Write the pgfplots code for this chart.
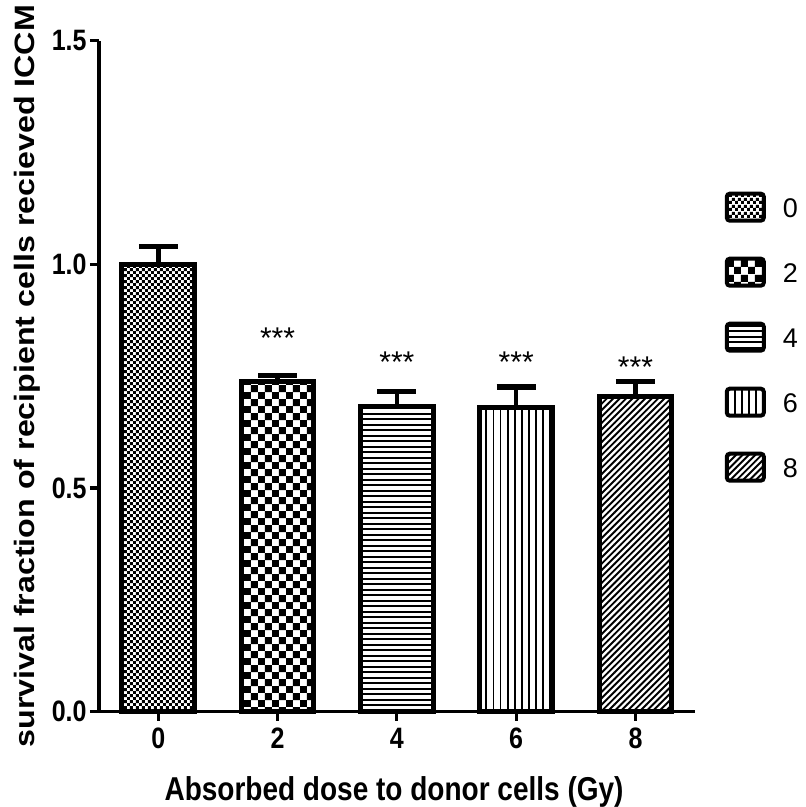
\documentclass[border=0pt]{standalone}
\usepackage{fontspec}
\setmainfont{Liberation Sans}
\usepackage{graphicx}
\usepackage{pgfplots}
\pgfplotsset{compat=1.18}
\usetikzlibrary{patterns}

% slight vertical stretch used for the bold labels
\newcommand{\vs}[1]{\scalebox{1}[1.18]{#1}}

% fill patterns for the five dose groups
\pgfdeclarepatternformonly{finechecker}{\pgfpointorigin}{\pgfqpoint{3.2pt}{3.2pt}}{\pgfqpoint{3.2pt}{3.2pt}}{
  \pgfpathrectangle{\pgfpointorigin}{\pgfqpoint{1.6pt}{1.6pt}}
  \pgfpathrectangle{\pgfqpoint{1.6pt}{1.6pt}}{\pgfqpoint{1.6pt}{1.6pt}}
  \pgfusepath{fill}}
\pgfdeclarepatternformonly{coarsechecker}{\pgfpointorigin}{\pgfqpoint{7.2pt}{7.2pt}}{\pgfqpoint{7.2pt}{7.2pt}}{
  \pgfpathrectangle{\pgfpointorigin}{\pgfqpoint{3.6pt}{3.6pt}}
  \pgfpathrectangle{\pgfqpoint{3.6pt}{3.6pt}}{\pgfqpoint{3.6pt}{3.6pt}}
  \pgfusepath{fill}}
\pgfdeclarepatternformonly{hlin}{\pgfqpoint{-0.5pt}{-0.5pt}}{\pgfqpoint{3.25pt}{3.25pt}}{\pgfqpoint{2.75pt}{2.75pt}}{
  \pgfsetlinewidth{0.9pt}
  \pgfpathmoveto{\pgfqpoint{-0.1pt}{1.375pt}}
  \pgfpathlineto{\pgfqpoint{2.85pt}{1.375pt}}
  \pgfusepath{stroke}}
\pgfdeclarepatternformonly{vlin}{\pgfqpoint{-0.5pt}{-0.5pt}}{\pgfqpoint{4.05pt}{4.05pt}}{\pgfqpoint{3.55pt}{3.55pt}}{
  \pgfsetlinewidth{0.9pt}
  \pgfpathmoveto{\pgfqpoint{1.775pt}{-0.1pt}}
  \pgfpathlineto{\pgfqpoint{1.775pt}{3.65pt}}
  \pgfusepath{stroke}}
\pgfdeclarepatternformonly{dlin}{\pgfqpoint{-1pt}{-1pt}}{\pgfqpoint{4.2pt}{4.2pt}}{\pgfqpoint{3.2pt}{3.2pt}}{
  \pgfsetlinewidth{0.95pt}
  \pgfpathmoveto{\pgfqpoint{0pt}{0pt}}
  \pgfpathlineto{\pgfqpoint{3.3pt}{3.3pt}}
  \pgfusepath{stroke}}

\pgfplotsset{
  dosebar/.style={ybar, bar width=0.61, bar shift=0pt, draw=black, line width=2.5pt,
    legend image code/.code={
      \draw[##1, line width=2pt, rounded corners=1.5pt] (1pt,-5.6pt) rectangle (19.5pt,7.9pt);}},
}

\begin{document}
\begin{tikzpicture}
\begin{axis}[
  name=ax,
  scale only axis, width=298pt, height=335.5pt,
  xmin=-0.497, xmax=4.499, ymin=0, ymax=1.5,
  axis x line*=bottom, axis y line*=left,
  axis line style={line width=1.6pt, black},
  every tick/.style={black, line width=1.6pt},
  tick align=outside, major tick length=4.5pt,
  xtick={0,1,2,3,4},
  xticklabels={\vs{0},\vs{2},\vs{4},\vs{6},\vs{8}},
  ytick={0,0.5,1,1.5},
  yticklabel={\vs{\pgfmathprintnumber{\tick}}},
  yticklabel style={/pgf/number format/fixed, /pgf/number format/fixed zerofill,
    /pgf/number format/precision=1, /pgf/number format/assume math mode=true,
    inner sep=1.5pt},
  ticklabel style={font=\bfseries\fontsize{12.5}{14}\selectfont},
  every axis x label/.style={at={(axis description cs:0.495,-0.1316)}, anchor=base,
    font=\bfseries\fontsize{14}{16}\selectfont},
  every axis y label/.style={at={(axis description cs:-0.1074,0.5)}, rotate=90, anchor=base,
    font=\bfseries\fontsize{14}{16}\selectfont},
  xlabel={\vs{Absorbed dose to donor cells (Gy)}},
  ylabel={\scalebox{1.15}[1]{survival fraction of recipient cells recieved ICCM}},
  error bars/y dir=plus, error bars/y explicit,
  error bars/error bar style={line width=2.3pt, black},
  error bars/error mark options={rotate=90, mark size=9.75pt, line width=2.6pt, black},
  legend style={at={(axis description cs:1.050,0.775)}, anchor=north west,
    draw=none, fill=none, inner sep=0pt, outer sep=0pt,
    row sep=17pt, column sep=8.5pt,
    font=\fontsize{13.5}{15}\selectfont,
    nodes={inner sep=0pt}},
  legend cell align=left,
  clip=false,
]
\addplot[dosebar, pattern=finechecker]   coordinates {(0,1.000) +- (0,0.040)};
\addplot[dosebar, pattern=coarsechecker] coordinates {(1,0.739) +- (0,0.013)};
\addplot[dosebar, pattern=hlin]          coordinates {(2,0.683) +- (0,0.033)};
\addplot[dosebar, pattern=vlin]          coordinates {(3,0.679) +- (0,0.047)};
\addplot[dosebar, pattern=dlin]          coordinates {(4,0.704) +- (0,0.034)};
\legend{0,2,4,6,8}

% significance marks over the irradiated groups
\node[anchor=base, font=\fontsize{15}{16}\selectfont] at (axis cs:1,0.812) {***};
\node[anchor=base, font=\fontsize{15}{16}\selectfont] at (axis cs:2,0.758) {***};
\node[anchor=base, font=\fontsize{15}{16}\selectfont] at (axis cs:3,0.758) {***};
\node[anchor=base, font=\fontsize{15}{16}\selectfont] at (axis cs:4,0.748) {***};
\end{axis}
\pgfresetboundingbox
\path[use as bounding box] ([shift={(-49.5pt,-47.65pt)}]ax.south west) rectangle ++(402.5pt,403.5pt);
\end{tikzpicture}
\end{document}
